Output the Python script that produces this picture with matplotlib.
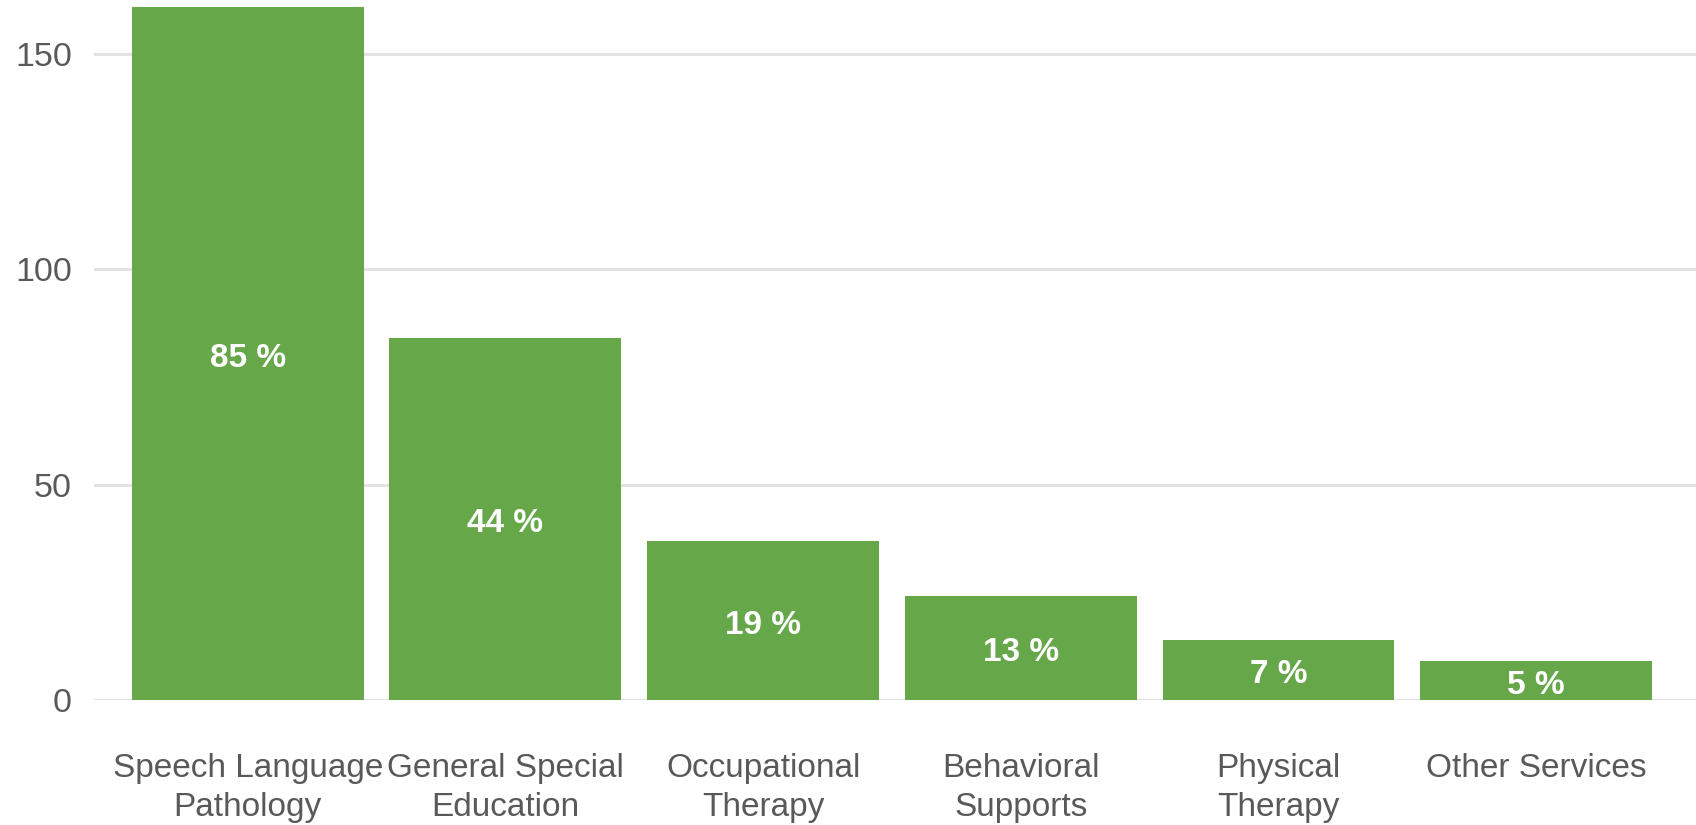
import matplotlib
matplotlib.use("Agg")
import matplotlib.pyplot as plt
from matplotlib import font_manager

# service counts and their share of all respondents
services = ["Speech Language\nPathology", "General Special\nEducation", "Occupational\nTherapy",
            "Behavioral\nSupports", "Physical\nTherapy", "Other Services"]
counts = [161, 84, 37, 24, 14, 9]
shares = [85, 44, 19, 13, 7, 5]

names = {f.name for f in font_manager.fontManager.ttflist}
base_font = "Liberation Sans Narrow" if "Liberation Sans Narrow" in names else "Liberation Sans"
plt.rcParams["font.family"] = [base_font, "DejaVu Sans"]

fig = plt.figure(figsize=(16.96, 8.25), dpi=100)
ax = fig.add_axes([0.0555, 0.1518, 0.9445, 0.8482])

x = list(range(len(services)))
bars = ax.bar(x, counts, width=0.9, color="#66A74A", zorder=3)

for b, s in zip(bars, shares):
    ax.annotate(f"{s} %", (b.get_x() + b.get_width() / 2, b.get_height() / 2),
                xytext=(0, -3.5), textcoords="offset points",
                ha="center", va="center", color="white", fontsize=24, fontweight="bold",
                family=["Liberation Sans", "DejaVu Sans"], zorder=4)

ax.set_xlim(-0.596, 5.62)
ax.set_ylim(0, 162.6)
ax.set_yticks([0, 50, 100, 150])
ax.yaxis.grid(True, color="#E3E3E3", linewidth=2.2, zorder=0)
ax.set_axisbelow(True)

ax.set_xticks(x)
ax.set_xticklabels(services, fontsize=24, color="#595959", linespacing=1.35)
ax.tick_params(axis="x", length=0, pad=38)
ax.tick_params(axis="y", length=0, pad=16, labelsize=24.5, labelcolor="#595959")

for sp in ax.spines.values():
    sp.set_visible(False)

fig.savefig("out.png", dpi=100)
